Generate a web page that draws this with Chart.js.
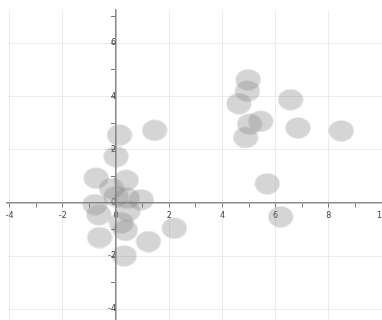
<!DOCTYPE html>
<html>
<head>
<meta charset="utf-8">
<script src="https://cdn.jsdelivr.net/npm/chart.js@4"></script>
<style>
  body { margin: 0; background: #fff; }
  #wrap { width: 382px; height: 320px; }
</style>
</head>
<body>
<div id="wrap"><canvas id="myChart"></canvas></div>
<script>
// point positions
const xValues = [
    0.13, 1.45, 0.0, -0.75, 0.38, -0.17, 0.0, 0.42, 0.95,
    -0.79, -0.65, 0.45, 0.2, 0.35, -0.62, 1.22, 2.19, 0.31,
    4.97, 4.94, 4.62, 6.56, 5.44, 5.02, 4.87, 6.84, 8.47, 5.69, 6.19
];
const yValues = [
    2.55, 2.73, 1.74, 0.93, 0.85, 0.54, 0.24, 0.18, 0.12,
    -0.06, -0.44, -0.31, -0.75, -1.03, -1.3, -1.45, -0.95, -1.99,
    4.63, 4.2, 3.73, 3.88, 3.07, 2.96, 2.46, 2.82, 2.71, 0.72, -0.52
];
const xTickLabels = ["-4", "-2", "0", "2", "4", "6", "8", "10"];
const yTickLabels = ["-4", "-2", "0", "2", "4", "6"];

const pts = xValues.map((x, i) => ({ x: x, y: yValues[i] }));

// slightly wide ellipse like the picture
const dot = document.createElement("canvas");
dot.width = 26;
dot.height = 22;
const dctx = dot.getContext("2d");
dctx.fillStyle = "rgba(128,128,128,0.33)";
dctx.beginPath();
dctx.ellipse(13, 11, 12.5, 10.5, 0, 0, Math.PI * 2);
dctx.fill();

function gridCol(ctx) {
    return ctx.tick && ctx.tick.value % 2 === 0 ? "#ececec" : "rgba(0,0,0,0)";
}

// axes sit in the middle, they should not eat into the plot area
function noRoom(s) {
    s.paddingLeft = 0;
    s.paddingRight = 0;
    s.paddingTop = 0;
    s.paddingBottom = 0;
    if (s.isHorizontal()) s.height = 0; else s.width = 0;
}

new Chart("myChart", {
    type: "scatter",
    data: {
        datasets: [{
            data: pts,
            pointStyle: dot,
            pointRadius: 12,
            pointHoverRadius: 12
        }]
    },
    options: {
        animation: false,
        responsive: true,
        maintainAspectRatio: false,
        layout: { autoPadding: false, padding: { left: 7, right: 0, top: 10, bottom: 0 } },
        plugins: {
            legend: { display: false },
            tooltip: { enabled: false }
        },
        scales: {
            x: {
                type: "linear",
                position: { y: 0 },
                min: -4.1,
                max: 10,
                afterFit: noRoom,
                border: { color: "#8a8a8a", width: 1.5 },
                grid: { color: gridCol, tickColor: "#777", tickLength: 4, lineWidth: 1 },
                ticks: {
                    stepSize: 1,
                    includeBounds: false,
                    autoSkip: false,
                    maxRotation: 0,
                    color: "#444",
                    font: { size: 8, family: "DejaVu Sans" },
                    padding: 4,
                    callback: v => xTickLabels.includes(String(v)) ? String(v) : ""
                }
            },
            y: {
                type: "linear",
                position: { x: 0 },
                min: -4.4,
                max: 7.25,
                afterFit: noRoom,
                border: { color: "#8a8a8a", width: 1.5 },
                grid: { color: gridCol, tickColor: "#777", tickLength: 4, lineWidth: 1 },
                ticks: {
                    stepSize: 1,
                    includeBounds: false,
                    autoSkip: false,
                    color: "#444",
                    font: { size: 8, family: "DejaVu Sans" },
                    padding: 6,
                    callback: v => yTickLabels.includes(String(v)) ? String(v) : ""
                }
            }
        }
    }
});
</script>
</body>
</html>
